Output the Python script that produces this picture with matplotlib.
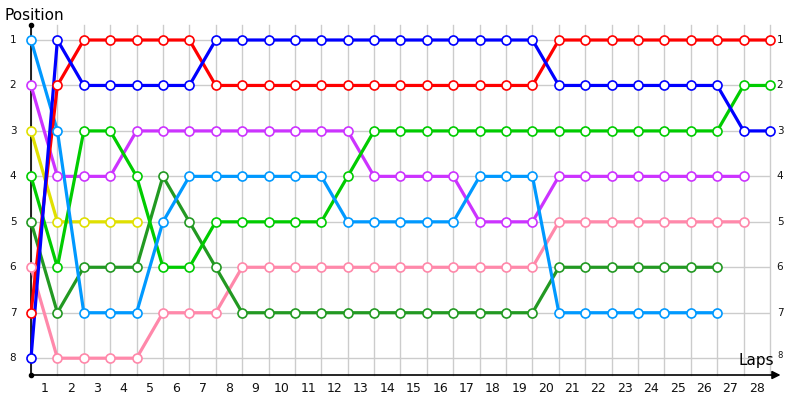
import numpy as np
import matplotlib.pyplot as plt

# positions per lap (lap 0 = start), a driver's list stops where he retired
red = [7, 2, 1, 1, 1, 1, 1, 2, 2, 2, 2, 2, 2, 2, 2, 2, 2, 2, 2, 2, 1, 1, 1, 1, 1, 1, 1, 1, 1]
blue = [8, 1, 2, 2, 2, 2, 2, 1, 1, 1, 1, 1, 1, 1, 1, 1, 1, 1, 1, 1, 2, 2, 2, 2, 2, 2, 2, 3, 3]
light_blue = [1, 3, 7, 7, 7, 5, 4, 4, 4, 4, 4, 4, 5, 5, 5, 5, 5, 4, 4, 4, 7, 7, 7, 7, 7, 7, 7]
purple = [2, 4, 4, 4, 3, 3, 3, 3, 3, 3, 3, 3, 3, 4, 4, 4, 4, 5, 5, 5, 4, 4, 4, 4, 4, 4, 4, 4]
yellow = [3, 5, 5, 5, 5]
green = [4, 6, 3, 3, 4, 6, 6, 5, 5, 5, 5, 5, 4, 3, 3, 3, 3, 3, 3, 3, 3, 3, 3, 3, 3, 3, 3, 2, 2]
dark_green = [5, 7, 6, 6, 6, 4, 5, 6, 7, 7, 7, 7, 7, 7, 7, 7, 7, 7, 7, 7, 6, 6, 6, 6, 6, 6, 6]
pink = [6, 8, 8, 8, 8, 7, 7, 7, 6, 6, 6, 6, 6, 6, 6, 6, 6, 6, 6, 6, 5, 5, 5, 5, 5, 5, 5, 5]

series = [
    (pink, '#FF88AA'),
    (dark_green, '#229922'),
    (yellow, '#E0E000'),
    (purple, '#CC33FF'),
    (green, '#00CC00'),
    (light_blue, '#0099FF'),
    (red, '#FF0000'),
    (blue, '#0000FF'),
]

n_laps = 28
ymin, ymax = 0.67, 8.37

fig = plt.figure(figsize=(8, 4), dpi=100)
ax = fig.add_axes([31 / 800, 25 / 400, 739 / 800, 350 / 400])
ax.set_xlim(0, n_laps)
ax.set_ylim(ymax, ymin)

# grid
for k in range(n_laps + 1):
    ax.plot([k, k], [ymin, ymax], color='#CCCCCC', lw=1, zorder=1, clip_on=False)
for p in range(1, 9):
    ax.plot([0, n_laps], [p, p], color='#CCCCCC', lw=1, zorder=1)

for vals, col in series:
    laps = np.arange(len(vals))
    ax.plot(laps, vals, color=col, lw=2.3, zorder=3, solid_capstyle='round',
            clip_on=False)
    ax.plot(laps, vals, 'o', ms=6.5, mfc='white', mec=col, mew=1.2, zorder=4,
            clip_on=False)

# axes drawn by hand
for s in ax.spines.values():
    s.set_visible(False)
ax.set_xticks([])
ax.set_yticks([])
ax.plot([0, 0], [ymin, ymax], color='black', lw=1.2, zorder=2, clip_on=False)
ax.plot([0, 0], [ymin, ymax], 'o', color='black', ms=3, zorder=2, clip_on=False)
ax.annotate('', xy=(28.4, ymax), xytext=(0, ymax),
            arrowprops=dict(arrowstyle='-|>', color='black', lw=1.2,
                            mutation_scale=12, shrinkA=0, shrinkB=0),
            annotation_clip=False)

for k in range(1, n_laps + 1):
    ax.text(k - 0.5, ymax + 0.3, str(k), ha='center', va='center', fontsize=9,
            color='#111111')
for p in range(1, 9):
    ax.text(-0.68, p, str(p), ha='center', va='center', fontsize=7.5,
            color='#111111')
    if p < 8:
        ax.text(28.38, p, str(p), ha='center', va='center', fontsize=7.5,
                color='#111111')
ax.text(28.4, 7.93, '8', ha='center', va='center', fontsize=6, color='#111111')

fig.text(5 / 800, 1 - 16 / 400, 'Position', ha='left', va='center', fontsize=11)
ax.text(28.17, 8.05, 'Laps', ha='right', va='center', fontsize=11)

fig.savefig('out.png', dpi=100)
